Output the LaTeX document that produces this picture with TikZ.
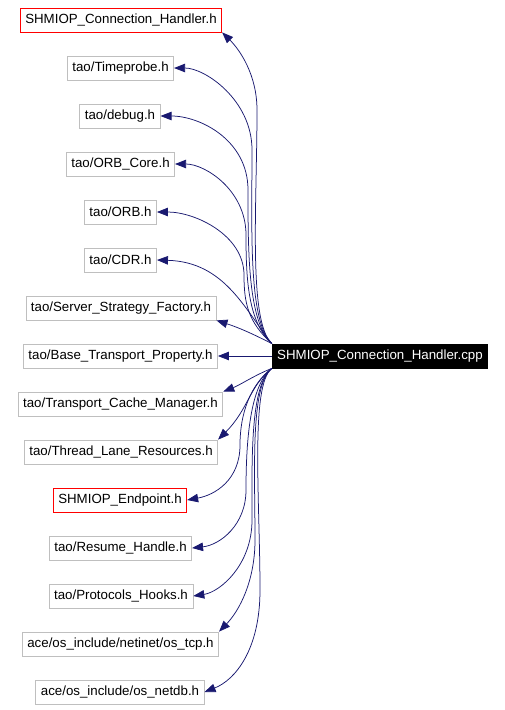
\documentclass[tikz,border=0pt]{standalone}
\usepackage{fontspec}
\setmainfont{Liberation Sans}
\usepackage{tikz}
\usetikzlibrary{arrows.meta}
\definecolor{edgeblue}{HTML}{191970}
\definecolor{boxgray}{HTML}{BFBFBF}

\begin{document}
\begin{tikzpicture}[
    x=1pt, y=-1pt,
    font=\fontsize{13.3}{15}\selectfont,
    file/.style={draw=boxgray, line width=0.8pt, minimum height=24pt, inner xsep=5pt, inner ysep=0pt},
    local/.style={file, draw=red},
    source/.style={file, draw=black, fill=black, text=white},
    dep/.style={-{Triangle[length=11pt, width=8.5pt]}, edgeblue, line width=0.75pt}
]
    \useasboundingbox (0,0) rectangle (504,710);

    % included headers
    \node[local] (handler_h)       at (121, 20)  {SHMIOP\_Connection\_Handler.h};
    \node[file]  (timeprobe)       at (120.5, 68)  {tao/Timeprobe.h};
    \node[file]  (debug)           at (120, 116) {tao/debug.h};
    \node[file]  (orb_core)        at (120.5, 164) {tao/ORB\_Core.h};
    \node[file]  (orb)             at (120.5, 212) {tao/ORB.h};
    \node[file]  (cdr)             at (120.5, 260) {tao/CDR.h};
    \node[file]  (server_strategy) at (121, 308) {tao/Server\_Strategy\_Factory.h};
    \node[file]  (base_transport)  at (120.5, 356) {tao/Base\_Transport\_Property.h};
    \node[file]  (cache_manager)   at (120.5, 404) {tao/Transport\_Cache\_Manager.h};
    \node[file]  (lane_resources)  at (121, 452) {tao/Thread\_Lane\_Resources.h};
    \node[local] (endpoint)        at (120, 500) {SHMIOP\_Endpoint.h};
    \node[file]  (resume_handle)   at (120.5, 548) {tao/Resume\_Handle.h};
    \node[file]  (protocols_hooks) at (121, 596) {tao/Protocols\_Hooks.h};
    \node[file]  (os_tcp)          at (120.5, 644) {ace/os\_include/netinet/os\_tcp.h};
    \node[file]  (os_netdb)        at (120, 692) {ace/os\_include/os\_netdb.h};

    \node[source] (main) at (380, 356) {SHMIOP\_Connection\_Handler.cpp};

    % upper edges
    \draw[dep] (main.north west) .. controls (248,322) and (257,204) .. (257,110) .. controls (257,75) and (240,50) .. (handler_h.south east);
    \draw[dep] (main.north west) .. controls (248,322) and (252,228) .. (252,150) .. controls (252,100) and (205,68) .. (timeprobe.east);
    \draw[dep] (main.north west) .. controls (248,322) and (248,252) .. (248,190) .. controls (248,140) and (200,116) .. (debug.east);
    \draw[dep] (main.north west) .. controls (248,322) and (246,279) .. (246,235) .. controls (246,190) and (205,164) .. (orb_core.east);
    \draw[dep] (main.north west) .. controls (248,322) and (244,303) .. (244,275) .. controls (244,235) and (195,212) .. (orb.east);
    \draw[dep] (main.north west) .. controls (245,310) and (225,262) .. (cdr.east);
    \draw[dep] (main.north west) .. controls (255,335) and (240,328) .. (server_strategy.south east);
    \draw[dep] (main.west) -- (base_transport.east);

    % lower edges
    \draw[dep] (main.south west) .. controls (255,375) and (240,385) .. (cache_manager.north east);
    \draw[dep] (main.south west) .. controls (250,385) and (248,410) .. (lane_resources.north east);
    \draw[dep] (main.south west) .. controls (250,385) and (240,414) .. (240,445) .. controls (240,480) and (215,495) .. (endpoint.east);
    \draw[dep] (main.south west) .. controls (250,385) and (246,441) .. (246,490) .. controls (246,525) and (220,545) .. (resume_handle.east);
    \draw[dep] (main.south west) .. controls (250,385) and (252,459) .. (252,520) .. controls (252,565) and (220,592) .. (protocols_hooks.east);
    \draw[dep] (main.south west) .. controls (250,385) and (255,471) .. (255,540) .. controls (255,580) and (240,610) .. (os_tcp.north east);
    \draw[dep] (main.south west) .. controls (250,385) and (260,501) .. (260,590) .. controls (260,650) and (235,680) .. (os_netdb.east);
\end{tikzpicture}
\end{document}
